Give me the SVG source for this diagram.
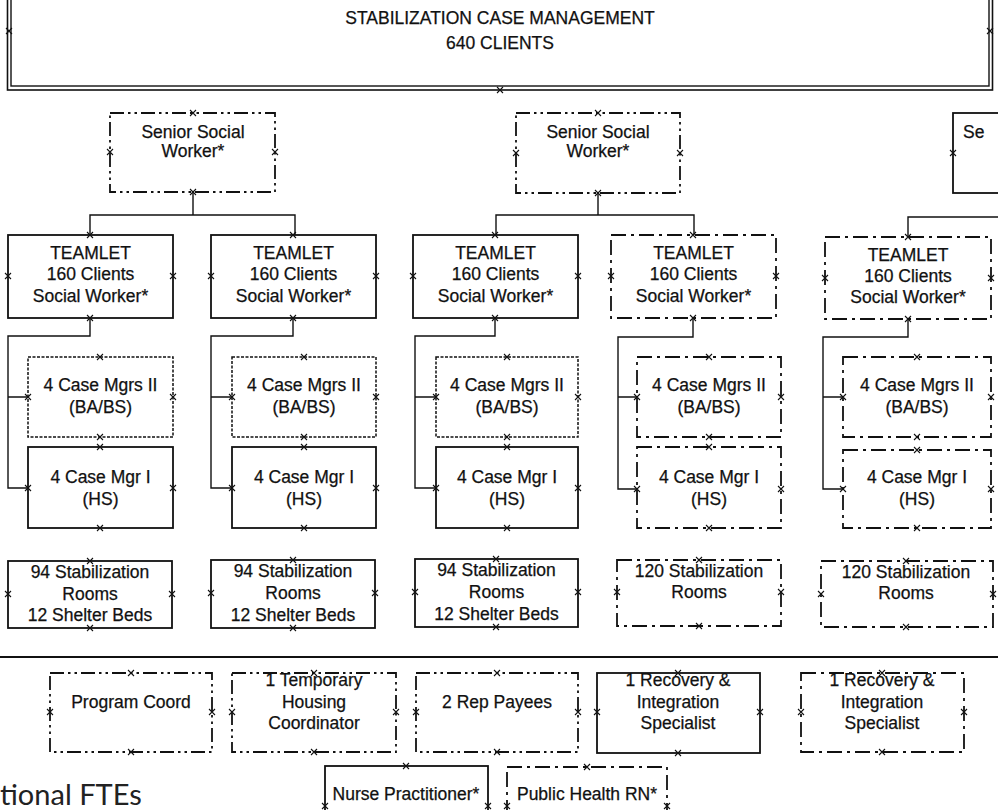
<svg xmlns="http://www.w3.org/2000/svg" xmlns:xlink="http://www.w3.org/1999/xlink" width="998" height="810" viewBox="0 0 998 810">
<style>
  .bx{fill:#fff;stroke:#111;stroke-width:1.8}
  .dd{stroke-dasharray:14 4 2.5 4 2.5 4}
  .dot{stroke-width:1.5;stroke-dasharray:3 1.5}
  .dda{stroke-dasharray:15 5 3 5}
  .t{font-family:"Liberation Sans",Arial,sans-serif;font-size:17.5px;fill:#111;stroke:#111;stroke-width:0.25;text-anchor:middle}
  .con{fill:none;stroke:#111;stroke-width:1.4}
  .xm{fill:none;stroke:#111;stroke-width:1.1}
</style>
<defs>
  <path id="x" class="xm" d="M-3,-3 L3,3 M3,-3 L-3,3"/>
</defs>
<rect width="998" height="810" fill="#fff"/>

<g id="header">
  <rect x="7.5" y="-20" width="985" height="110" fill="none" stroke="#111" stroke-width="1.6"/>
  <rect x="11" y="-20" width="978" height="106" fill="none" stroke="#111" stroke-width="1.4"/>
  <text class="t" x="500" y="24">STABILIZATION CASE MANAGEMENT</text>
  <text class="t" x="500" y="49">640 CLIENTS</text>
  <use href="#x" x="9" y="31"/><use href="#x" x="990" y="31"/><use href="#x" x="500" y="90"/>
</g>

<g id="connectors">
  <path class="con" d="M193,192 V215 M90,235 V215 H295 V235"/>
  <path class="con" d="M598,193 V215 M496,235 V215 H694 V235"/>
  <path class="con" d="M908,237 V217 H1000"/>
  <path class="con" d="M90,318 V336 H8 V488 H28 M8,397 H28"/>
  <path class="con" d="M293,318 V336 H211 V488 H232 M211,397 H232"/>
  <path class="con" d="M495,318 V336 H415 V488 H436 M415,397 H436"/>
  <path class="con" d="M693,318 V337 H618 V489 H637 M618,397 H637"/>
  <path class="con" d="M908,319 V337 H823 V489 H843 M823,397 H843"/>
  <line x1="0" y1="657" x2="998" y2="657" stroke="#111" stroke-width="2"/>
</g>

<g id="senior1">
  <rect class="bx dd" x="110" y="113" width="165" height="79"/>
  <text class="t" x="193" y="138">Senior Social</text>
  <text class="t" x="193" y="157">Worker*</text>
  <use href="#x" x="193" y="113"/><use href="#x" x="193" y="192"/><use href="#x" x="110" y="152"/><use href="#x" x="275" y="152"/>
</g>
<g id="senior2">
  <rect class="bx dd" x="516" y="113" width="164" height="80"/>
  <text class="t" x="598" y="138">Senior Social</text>
  <text class="t" x="598" y="157">Worker*</text>
  <use href="#x" x="598" y="113"/><use href="#x" x="598" y="193"/><use href="#x" x="516" y="153"/><use href="#x" x="680" y="153"/>
</g>
<g id="senior3">
  <rect class="bx" x="953" y="113" width="80" height="80"/>
  <text class="t" x="963" y="138" style="text-anchor:start">Se</text>
  <use href="#x" x="953" y="153"/>
</g>

<g id="teamlet1">
  <rect class="bx" x="8" y="235" width="165" height="83"/>
  <text class="t" x="90.5" y="259">TEAMLET</text>
  <text class="t" x="90.5" y="280">160 Clients</text>
  <text class="t" x="90.5" y="302">Social Worker*</text>
  <use href="#x" x="90" y="235"/><use href="#x" x="90" y="318"/><use href="#x" x="8" y="276"/><use href="#x" x="173" y="276"/>
</g>
<g id="teamlet2">
  <rect class="bx" x="211" y="235" width="165" height="83"/>
  <text class="t" x="293.5" y="259">TEAMLET</text>
  <text class="t" x="293.5" y="280">160 Clients</text>
  <text class="t" x="293.5" y="302">Social Worker*</text>
  <use href="#x" x="293" y="235"/><use href="#x" x="293" y="318"/><use href="#x" x="211" y="276"/><use href="#x" x="376" y="276"/>
</g>
<g id="teamlet3">
  <rect class="bx" x="413" y="235" width="165" height="83"/>
  <text class="t" x="495.5" y="259">TEAMLET</text>
  <text class="t" x="495.5" y="280">160 Clients</text>
  <text class="t" x="495.5" y="302">Social Worker*</text>
  <use href="#x" x="495" y="235"/><use href="#x" x="495" y="318"/><use href="#x" x="413" y="276"/><use href="#x" x="578" y="276"/>
</g>
<g id="teamlet4">
  <rect class="bx dda" x="611" y="235" width="165" height="83"/>
  <text class="t" x="693.5" y="259">TEAMLET</text>
  <text class="t" x="693.5" y="280">160 Clients</text>
  <text class="t" x="693.5" y="302">Social Worker*</text>
  <use href="#x" x="693" y="235"/><use href="#x" x="693" y="318"/><use href="#x" x="611" y="276"/><use href="#x" x="776" y="276"/>
</g>
<g id="teamlet5">
  <rect class="bx dda" x="825" y="237" width="166" height="82"/>
  <text class="t" x="908" y="261">TEAMLET</text>
  <text class="t" x="908" y="282">160 Clients</text>
  <text class="t" x="908" y="303">Social Worker*</text>
  <use href="#x" x="908" y="237"/><use href="#x" x="908" y="319"/><use href="#x" x="825" y="278"/><use href="#x" x="991" y="278"/>
</g>

<g id="cm2-1">
  <rect class="bx dot" x="28" y="357" width="145" height="80"/>
  <text class="t" x="100.5" y="391">4 Case Mgrs II</text>
  <text class="t" x="100.5" y="413">(BA/BS)</text>
  <use href="#x" x="100" y="357"/><use href="#x" x="100" y="437"/><use href="#x" x="28" y="397"/><use href="#x" x="173" y="397"/>
</g>
<g id="cm2-2">
  <rect class="bx dot" x="232" y="357" width="144" height="80"/>
  <text class="t" x="304" y="391">4 Case Mgrs II</text>
  <text class="t" x="304" y="413">(BA/BS)</text>
  <use href="#x" x="304" y="357"/><use href="#x" x="304" y="437"/><use href="#x" x="232" y="397"/><use href="#x" x="376" y="397"/>
</g>
<g id="cm2-3">
  <rect class="bx dot" x="436" y="357" width="142" height="80"/>
  <text class="t" x="507" y="391">4 Case Mgrs II</text>
  <text class="t" x="507" y="413">(BA/BS)</text>
  <use href="#x" x="507" y="357"/><use href="#x" x="507" y="437"/><use href="#x" x="436" y="397"/><use href="#x" x="578" y="397"/>
</g>
<g id="cm2-4">
  <rect class="bx dda" x="637" y="357" width="144" height="80"/>
  <text class="t" x="709" y="391">4 Case Mgrs II</text>
  <text class="t" x="709" y="413">(BA/BS)</text>
  <use href="#x" x="709" y="357"/><use href="#x" x="709" y="437"/><use href="#x" x="637" y="397"/><use href="#x" x="781" y="397"/>
</g>
<g id="cm2-5">
  <rect class="bx dda" x="843" y="357" width="148" height="80"/>
  <text class="t" x="917" y="391">4 Case Mgrs II</text>
  <text class="t" x="917" y="413">(BA/BS)</text>
  <use href="#x" x="917" y="357"/><use href="#x" x="917" y="437"/><use href="#x" x="843" y="397"/><use href="#x" x="991" y="397"/>
</g>

<g id="cm1-1">
  <rect class="bx" x="28" y="447" width="145" height="81"/>
  <text class="t" x="100.5" y="483">4 Case Mgr I</text>
  <text class="t" x="100.5" y="505">(HS)</text>
  <use href="#x" x="100" y="447"/><use href="#x" x="100" y="528"/><use href="#x" x="28" y="488"/><use href="#x" x="173" y="488"/>
</g>
<g id="cm1-2">
  <rect class="bx" x="232" y="447" width="144" height="81"/>
  <text class="t" x="304" y="483">4 Case Mgr I</text>
  <text class="t" x="304" y="505">(HS)</text>
  <use href="#x" x="304" y="447"/><use href="#x" x="304" y="528"/><use href="#x" x="232" y="488"/><use href="#x" x="376" y="488"/>
</g>
<g id="cm1-3">
  <rect class="bx" x="436" y="447" width="142" height="81"/>
  <text class="t" x="507" y="483">4 Case Mgr I</text>
  <text class="t" x="507" y="505">(HS)</text>
  <use href="#x" x="507" y="447"/><use href="#x" x="507" y="528"/><use href="#x" x="436" y="488"/><use href="#x" x="578" y="488"/>
</g>
<g id="cm1-4">
  <rect class="bx dda" x="637" y="447" width="144" height="81"/>
  <text class="t" x="709" y="483">4 Case Mgr I</text>
  <text class="t" x="709" y="505">(HS)</text>
  <use href="#x" x="709" y="447"/><use href="#x" x="709" y="528"/><use href="#x" x="637" y="489"/><use href="#x" x="781" y="489"/>
</g>
<g id="cm1-5">
  <rect class="bx dda" x="843" y="450" width="148" height="78"/>
  <text class="t" x="917" y="483">4 Case Mgr I</text>
  <text class="t" x="917" y="505">(HS)</text>
  <use href="#x" x="917" y="450"/><use href="#x" x="917" y="528"/><use href="#x" x="843" y="489"/><use href="#x" x="991" y="489"/>
</g>

<g id="rooms1">
  <rect class="bx" x="8" y="561" width="164" height="67"/>
  <text class="t" x="90" y="578">94 Stabilization</text>
  <text class="t" x="90" y="599.5">Rooms</text>
  <text class="t" x="90" y="621">12 Shelter Beds</text>
  <use href="#x" x="90" y="561"/><use href="#x" x="90" y="628"/><use href="#x" x="8" y="594"/><use href="#x" x="172" y="594"/>
</g>
<g id="rooms2">
  <rect class="bx" x="211" y="560" width="164" height="68"/>
  <text class="t" x="293" y="577">94 Stabilization</text>
  <text class="t" x="293" y="599">Rooms</text>
  <text class="t" x="293" y="620.5">12 Shelter Beds</text>
  <use href="#x" x="293" y="560"/><use href="#x" x="293" y="628"/><use href="#x" x="211" y="593"/><use href="#x" x="375" y="593"/>
</g>
<g id="rooms3">
  <rect class="bx" x="415" y="559" width="163" height="68"/>
  <text class="t" x="496.5" y="576">94 Stabilization</text>
  <text class="t" x="496.5" y="598">Rooms</text>
  <text class="t" x="496.5" y="619.5">12 Shelter Beds</text>
  <use href="#x" x="496" y="559"/><use href="#x" x="496" y="627"/><use href="#x" x="415" y="592"/><use href="#x" x="578" y="592"/>
</g>
<g id="rooms4">
  <rect class="bx dda" x="617" y="560" width="164" height="66"/>
  <text class="t" x="699" y="577">120 Stabilization</text>
  <text class="t" x="699" y="598">Rooms</text>
  <use href="#x" x="699" y="560"/><use href="#x" x="699" y="626"/><use href="#x" x="617" y="592"/><use href="#x" x="781" y="592"/>
</g>
<g id="rooms5">
  <rect class="bx dda" x="821" y="561" width="172" height="66"/>
  <text class="t" x="906" y="578">120 Stabilization</text>
  <text class="t" x="906" y="599">Rooms</text>
  <use href="#x" x="906" y="561"/><use href="#x" x="906" y="627"/><use href="#x" x="821" y="594"/><use href="#x" x="993" y="594"/>
</g>

<g id="program-coord">
  <rect class="bx dd" x="50" y="673" width="162" height="79"/>
  <text class="t" x="131" y="708">Program Coord</text>
  <use href="#x" x="131" y="673"/><use href="#x" x="131" y="752"/><use href="#x" x="50" y="712"/><use href="#x" x="212" y="712"/>
</g>
<g id="temp-housing">
  <rect class="bx dd" x="232" y="673" width="164" height="79"/>
  <text class="t" x="314" y="686">1 Temporary</text>
  <text class="t" x="314" y="708">Housing</text>
  <text class="t" x="314" y="729">Coordinator</text>
  <use href="#x" x="314" y="673"/><use href="#x" x="314" y="752"/><use href="#x" x="232" y="712"/><use href="#x" x="396" y="712"/>
</g>
<g id="rep-payees">
  <rect class="bx dd" x="416" y="673" width="162" height="79"/>
  <text class="t" x="497" y="708">2 Rep Payees</text>
  <use href="#x" x="497" y="673"/><use href="#x" x="497" y="752"/><use href="#x" x="416" y="712"/><use href="#x" x="578" y="712"/>
</g>
<g id="recovery1">
  <rect class="bx" x="597" y="673" width="163" height="80"/>
  <text class="t" x="678" y="686">1 Recovery &amp;</text>
  <text class="t" x="678" y="708">Integration</text>
  <text class="t" x="678" y="729">Specialist</text>
  <use href="#x" x="678" y="673"/><use href="#x" x="678" y="753"/><use href="#x" x="597" y="712"/><use href="#x" x="760" y="712"/>
</g>
<g id="recovery2">
  <rect class="bx dda" x="801" y="673" width="163" height="79"/>
  <text class="t" x="882" y="686">1 Recovery &amp;</text>
  <text class="t" x="882" y="708">Integration</text>
  <text class="t" x="882" y="729">Specialist</text>
  <use href="#x" x="882" y="673"/><use href="#x" x="882" y="752"/><use href="#x" x="801" y="712"/><use href="#x" x="964" y="712"/>
</g>
<g id="nurse">
  <rect class="bx" x="325" y="766" width="163" height="60"/>
  <text class="t" x="406" y="800">Nurse Practitioner*</text>
  <use href="#x" x="406" y="766"/><use href="#x" x="325" y="806"/><use href="#x" x="488" y="806"/>
</g>
<g id="public-health">
  <rect class="bx dda" x="507" y="767" width="160" height="60"/>
  <text class="t" x="587" y="800">Public Health RN*</text>
  <use href="#x" x="587" y="767"/><use href="#x" x="507" y="806"/><use href="#x" x="667" y="806"/>
</g>

<text x="0" y="805" font-family="Lato, 'Open Sans', sans-serif" font-size="29" fill="#222">tional FTEs</text>
</svg>
